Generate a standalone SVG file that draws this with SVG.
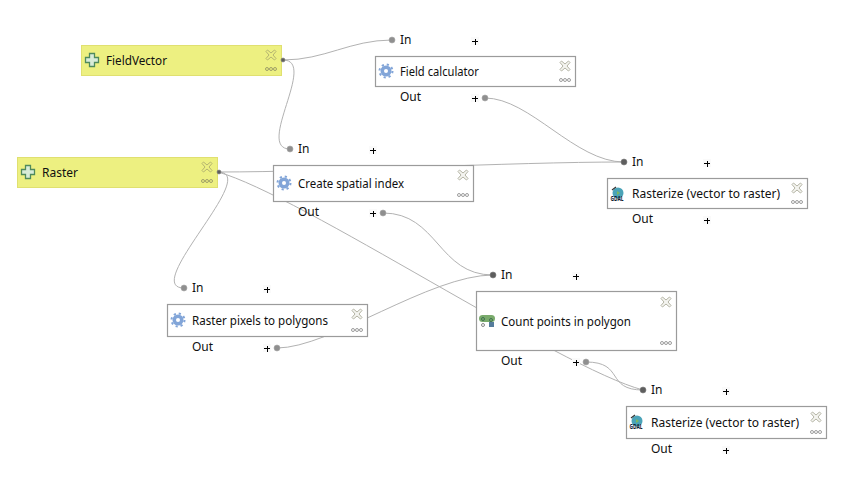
<svg xmlns="http://www.w3.org/2000/svg" width="854" height="479" viewBox="0 0 854 479">
<style>
text{font-family:"Noto Sans",sans-serif;font-size:12px;fill:#101010}
.conn path{fill:none;stroke:#b2b2b2;stroke-width:1}
.box{fill:#fff;stroke:#9b9b9b;stroke-width:1.2}
.par{fill:#edf081;stroke:#e0e070;stroke-width:1}
.port{fill:#8f8f8f;stroke:#a8a8a8;stroke-width:.6}
.dark{fill:#5e5e5e;stroke:#808080;stroke-width:.6}
.plus{stroke:#000;stroke-width:1;shape-rendering:crispEdges}
.plusbg{fill:#fafafa}
</style>
<defs>
<g id="x"><path d="M-5,-3.5L-3.5,-5L0,-2L3.5,-5L5,-3.5L2,0L5,3.5L3.5,5L0,2L-3.5,5L-5,3.5L-2,0Z" fill="#f4f4f0" stroke="#b4b4a4" stroke-width="1"/></g>
<g id="x2"><path d="M-5,-3.5L-3.5,-5L0,-2L3.5,-5L5,-3.5L2,0L5,3.5L3.5,5L0,2L-3.5,5L-5,3.5L-2,0Z" fill="none" stroke="#b4b470" stroke-width="1"/></g>
<g id="dots" fill="none" stroke="#9c9c9c" stroke-width="1"><circle cx="-4" cy="0" r="1.5"/><circle cx="0" cy="0" r="1.5"/><circle cx="4" cy="0" r="1.5"/></g>
<g id="dots2" fill="none" stroke="#a0a068" stroke-width="1"><circle cx="-4" cy="0" r="1.5"/><circle cx="0" cy="0" r="1.5"/><circle cx="4" cy="0" r="1.5"/></g>
<g id="gear"><circle r="5.5" fill="#82a5d8"/><circle r="6.5" fill="none" stroke="#82a5d8" stroke-width="2" stroke-dasharray="2.2 2.9"/><circle r="2" fill="#fff"/></g>
<path id="cross" d="M-2.5,-6.5H2.5V-2.5H6.5V2.5H2.5V6.5H-2.5V2.5H-6.5V-2.5H-2.5Z" fill="#d8ecd8" stroke="#4f8a5c" stroke-width="1.3"/>
<g id="gdal"><circle cx="1" cy="-2" r="5.500" fill="#4aa3b8"/><path d="M-5,-5L-1,-8" stroke="#333" stroke-width="1.2"/><path d="M0,-4L3,-2L0,0Z" fill="#7cb860"/><text x="0" y="6" text-anchor="middle" font-weight="bold" textLength="13" lengthAdjust="spacingAndGlyphs" style="font-size:6.500px;fill:#123">GDAL</text></g>
<g id="count"><rect x="-9" y="-6" width="16" height="7" rx="3.500" fill="#7aab6c"/><circle cx="-5" cy="-2" r="1.500" fill="none" stroke="#3f7050"/><circle cx="3" cy="-1" r="1.500" fill="none" stroke="#3f7050"/><circle cx="-5" cy="4" r="1.500" fill="#fff" stroke="#888"/><path d="M1,1H6V6H1Z" fill="#557c9c"/></g>
<g id="p"><rect x="-4" y="-4" width="8" height="8" class="plusbg"/><path d="M-3,.5H3M0,-2.500V3.500" class="plus"/></g>
</defs>
<rect width="854" height="479" fill="#fff"/>
<g id="connectors" class="conn">
<path d="M283,60C325,60 350,40 392,40"/>
<path d="M283,60C318,60 255,149 290,149"/>
<path d="M218,172C330,172 510,162 624,162"/>
<path d="M218,172C262,172 140,288 184,288"/>
<path d="M218,172C300,195 560,368 643,390"/>
<path d="M485,98C530,98 575,162 624,162"/>
<path d="M383,213C438,213 438,275 493,275"/>
<path d="M277,348C330,348 430,275 493,275"/>
<path d="M586,362C625,362 605,390 643,390"/>
</g>
<g id="FieldVector"><rect class="par" x="81.500" y="45.500" width="200" height="30"/><use href="#cross" x="92" y="60"/><text x="106" y="65" textLength="61" lengthAdjust="spacingAndGlyphs">FieldVector</text><use href="#x2" x="271" y="55"/><use href="#dots2" x="271" y="69"/></g>
<g id="Raster"><rect class="par" x="17.500" y="157.500" width="200" height="30"/><use href="#cross" x="28" y="172"/><text x="42" y="177">Raster</text><use href="#x2" x="207" y="167"/><use href="#dots2" x="207" y="181"/></g>
<circle class="dark" cx="283" cy="60" r="2"/><circle class="dark" cx="219" cy="172" r="2"/>
<g id="FieldCalculator"><circle class="port" cx="392" cy="40" r="3"/><text x="400" y="44">In</text><use href="#p" x="475" y="41"/><rect class="box" x="375.500" y="56.500" width="200" height="30"/><use href="#gear" x="386" y="71"/><text x="400" y="76" textLength="79" lengthAdjust="spacingAndGlyphs">Field calculator</text><use href="#x" x="565" y="66"/><use href="#dots" x="565" y="80"/><text x="400" y="101">Out</text><use href="#p" x="475" y="98"/><circle class="port" cx="485" cy="98" r="3"/></g>
<g id="CreateSpatialIndex"><circle class="port" cx="290" cy="149" r="3"/><text x="298" y="153">In</text><use href="#p" x="373" y="150"/><rect class="box" x="273.500" y="165.500" width="200" height="36"/><use href="#gear" x="284" y="183"/><text x="298" y="188" textLength="106" lengthAdjust="spacingAndGlyphs">Create spatial index</text><use href="#x" x="463" y="175"/><use href="#dots" x="463" y="195"/><text x="298" y="216">Out</text><use href="#p" x="373" y="213"/><circle class="port" cx="383" cy="213" r="3"/></g>
<g id="Rasterize1"><circle class="dark" cx="624" cy="162" r="3"/><text x="632" y="166">In</text><use href="#p" x="707" y="163"/><rect class="box" x="607.500" y="178.500" width="200" height="30"/><use href="#gdal" x="617" y="195"/><text x="632" y="198">Rasterize (vector to raster)</text><use href="#x" x="797" y="188"/><use href="#dots" x="797" y="202"/><text x="632" y="223">Out</text><use href="#p" x="707" y="220"/></g>
<g id="RasterPixels"><circle class="port" cx="184" cy="288" r="3"/><text x="192" y="292">In</text><use href="#p" x="267" y="289"/><rect class="box" x="167.500" y="304.500" width="200" height="32"/><use href="#gear" x="178" y="320"/><text x="192" y="325" textLength="136" lengthAdjust="spacingAndGlyphs">Raster pixels to polygons</text><use href="#x" x="357" y="314"/><use href="#dots" x="357" y="330"/><text x="192" y="351">Out</text><use href="#p" x="267" y="348"/><circle class="port" cx="277" cy="348" r="3"/></g>
<g id="CountPoints"><circle class="dark" cx="493" cy="275" r="3"/><text x="501" y="279">In</text><use href="#p" x="576" y="276"/><rect class="box" x="476.500" y="291.500" width="200" height="59"/><use href="#count" x="488" y="321"/><text x="501" y="326" textLength="130" lengthAdjust="spacingAndGlyphs">Count points in polygon</text><use href="#x" x="666" y="302"/><use href="#dots" x="666" y="343"/><text x="501" y="365">Out</text><use href="#p" x="576" y="362"/><circle class="port" cx="586" cy="362" r="3"/></g>
<g id="Rasterize2"><circle class="dark" cx="643" cy="390" r="3"/><text x="651" y="394">In</text><use href="#p" x="726" y="391"/><rect class="box" x="626.500" y="406.500" width="200" height="32"/><use href="#gdal" x="636" y="423"/><text x="651" y="427">Rasterize (vector to raster)</text><use href="#x" x="816" y="417"/><use href="#dots" x="816" y="432"/><text x="651" y="453">Out</text><use href="#p" x="726" y="450"/></g>
</svg>
